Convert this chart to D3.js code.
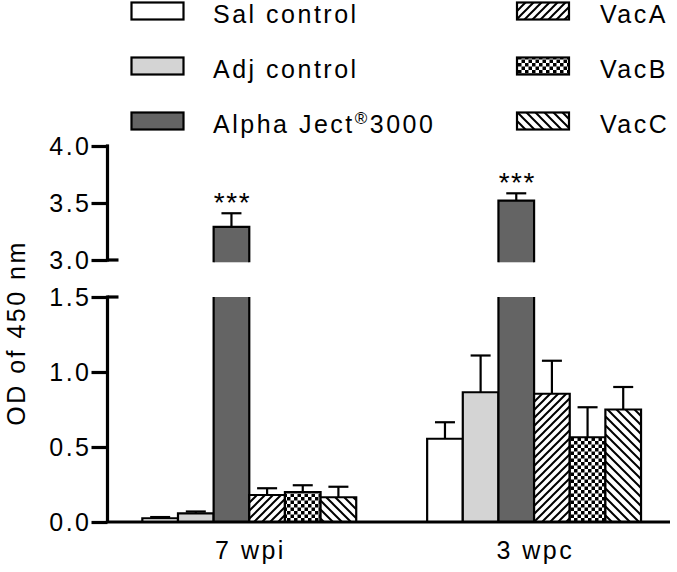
<!DOCTYPE html>
<html>
<head>
<meta charset="utf-8">
<script src="https://cdn.jsdelivr.net/npm/d3@7"></script>
<style>
  html, body { margin: 0; padding: 0; background: #fff; }
  svg { display: block; }
  text { font-family: "Liberation Sans", Arial, Helvetica, sans-serif; fill: #000; }
</style>
</head>
<body>
<svg id="chart" width="677" height="572"></svg>
<script>
// ---------------- DATA ----------------
const groups = ["7 wpi", "3 wpc"];
const series = ["Sal control", "Adj control", "Alpha Ject3000", "VacA", "VacB", "VacC"];
const means7wpi = [0.025, 0.058, 3.29, 0.18, 0.20, 0.165];
const errs7wpi  = [0.008, 0.012, 0.12, 0.045, 0.045, 0.07];
const means3wpc = [0.555, 0.865, 3.52, 0.855, 0.565, 0.75];
const errs3wpc  = [0.11, 0.245, 0.065, 0.22, 0.20, 0.15];
const significance = ["***", "***"]; // on Alpha Ject bars
const lowTicks  = [0, 0.5, 1.0, 1.5];
const highTicks = [3.0, 3.5, 4.0];
const yLabel = "OD of 450 nm";

// ---------------- LAYOUT ----------------
const svg = d3.select("#chart");
const axisX = 107.5;
const plotRight = 670;
const FS = 25, LS = 2.5;
const fillColors = {
  "Sal control": "#ffffff",
  "Adj control": "#d4d4d4",
  "Alpha Ject3000": "#646464",
  "VacA": "url(#patA)",
  "VacB": "url(#patB)",
  "VacC": "url(#patC)"
};

const yLow  = d3.scaleLinear().domain([0, 1.5]).range([522, 297]);
const yHigh = d3.scaleLinear().domain([3, 4]).range([260, 146]);

const xGroup = d3.scaleBand().domain(groups).range([axisX, plotRight])
  .paddingInner(0.249).paddingOuter(0.112).align(0.546);
const xSeries = d3.scaleBand().domain(series).range([0, xGroup.bandwidth()]).padding(0);

// ---------------- PATTERNS ----------------
const defs = svg.append("defs");
const pA = defs.append("pattern").attr("id", "patA").attr("patternUnits", "userSpaceOnUse")
  .attr("width", 8).attr("height", 8);
pA.append("rect").attr("width", 8).attr("height", 8).attr("fill", "#fff");
pA.append("path").attr("d", "M-2,2 L2,-2 M0,8 L8,0 M6,10 L10,6")
  .attr("stroke", "#000").attr("stroke-width", 2);

const pB = defs.append("pattern").attr("id", "patB").attr("patternUnits", "userSpaceOnUse")
  .attr("width", 7).attr("height", 7);
pB.append("rect").attr("width", 7).attr("height", 7).attr("fill", "#fff");
pB.append("rect").attr("x", 0).attr("y", 0).attr("width", 3.5).attr("height", 3.5).attr("fill", "#000");
pB.append("rect").attr("x", 3.5).attr("y", 3.5).attr("width", 3.5).attr("height", 3.5).attr("fill", "#000");

const pC = defs.append("pattern").attr("id", "patC").attr("patternUnits", "userSpaceOnUse")
  .attr("width", 9).attr("height", 9);
pC.append("rect").attr("width", 9).attr("height", 9).attr("fill", "#fff");
pC.append("path").attr("d", "M-2,7 L2,11 M0,0 L9,9 M7,-2 L11,2")
  .attr("stroke", "#000").attr("stroke-width", 2);

// ---------------- BARS ----------------
const rows = [];
groups.forEach((g, gi) => {
  const m = gi === 0 ? means7wpi : means3wpc;
  const e = gi === 0 ? errs7wpi : errs3wpc;
  series.forEach((s, si) => rows.push({ group: g, series: s, value: m[si], err: e[si] }));
});

const yOf = v => v > 1.5 ? yHigh(v) : yLow(v);
const barG = svg.append("g");

rows.forEach(d => {
  const x0 = xGroup(d.group) + xSeries(d.series);
  const w = xSeries.bandwidth();
  const fill = fillColors[d.series];
  const pieces = [];
  if (d.value > 1.5) {
    pieces.push({ top: yLow(1.5), bottom: yLow(0), cap: false });
    pieces.push({ top: yHigh(d.value), bottom: yHigh(2.98), cap: true });
  } else {
    pieces.push({ top: yLow(d.value), bottom: yLow(0), cap: true });
  }
  pieces.forEach(p => {
    barG.append("rect").attr("x", x0).attr("y", p.top).attr("width", w)
      .attr("height", p.bottom - p.top).attr("fill", fill);
    const path = p.cap
      ? `M${x0},${p.bottom} V${p.top} H${x0 + w} V${p.bottom}`
      : `M${x0},${p.bottom} V${p.top} M${x0 + w},${p.top} V${p.bottom}`;
    barG.append("path").attr("d", path).attr("fill", "none")
      .attr("stroke", "#000").attr("stroke-width", 2.2);
  });
  // error bar (upper only)
  const cx = x0 + w / 2;
  const yTop = yOf(d.value + d.err);
  barG.append("line").attr("x1", cx).attr("x2", cx).attr("y1", yOf(d.value)).attr("y2", yTop)
    .attr("stroke", "#000").attr("stroke-width", 2.2);
  barG.append("line").attr("x1", cx - 10).attr("x2", cx + 10).attr("y1", yTop).attr("y2", yTop)
    .attr("stroke", "#000").attr("stroke-width", 2.2);
  if (d.series === "Alpha Ject3000") {
    const gi = groups.indexOf(d.group);
    barG.append("text").attr("x", cx + 1).attr("y", yTop - 1)
      .attr("text-anchor", "middle").attr("font-size", 28).attr("letter-spacing", 1.5)
      .text(significance[gi]);
  }
});

// ---------------- AXES ----------------
function styleAxis(g) {
  g.selectAll(".tick line").attr("stroke-width", 3.2);
  g.selectAll(".tick text").attr("font-size", FS).attr("letter-spacing", LS)
    .style("font-family", "'Liberation Sans', Arial, sans-serif");
}
const axLow = svg.append("g").attr("transform", `translate(${axisX},0)`)
  .call(d3.axisLeft(yLow).tickValues(lowTicks).tickFormat(d3.format(".1f"))
    .tickSize(16).tickSizeOuter(0).tickPadding(0));
styleAxis(axLow);
const axHigh = svg.append("g").attr("transform", `translate(${axisX},0)`)
  .call(d3.axisLeft(yHigh).tickValues(highTicks).tickFormat(d3.format(".1f"))
    .tickSize(16).tickSizeOuter(0).tickPadding(0));
styleAxis(axHigh);
axLow.select(".domain").remove();
axHigh.select(".domain").remove();
svg.append("line").attr("x1", axisX).attr("x2", axisX).attr("y1", yLow(1.5) - 1.6).attr("y2", yLow(0))
  .attr("stroke", "#000").attr("stroke-width", 3.2);
svg.append("line").attr("x1", axisX).attr("x2", axisX).attr("y1", yHigh(4) - 1.6).attr("y2", yHigh(3) + 1.6)
  .attr("stroke", "#000").attr("stroke-width", 3.2);
// break marks
[yHigh(3), yLow(1.5)].forEach(y => {
  svg.append("line").attr("x1", axisX).attr("x2", axisX + 11).attr("y1", y).attr("y2", y)
    .attr("stroke", "#000").attr("stroke-width", 3.2);
});

// x axis
svg.append("line").attr("x1", axisX - 1.6).attr("x2", plotRight).attr("y1", yLow(0)).attr("y2", yLow(0))
  .attr("stroke", "#000").attr("stroke-width", 3.2);
svg.append("g").selectAll("text").data(groups).join("text")
  .attr("x", d => xGroup(d) + xGroup.bandwidth() / 2 + 1.2)
  .attr("y", 559).attr("text-anchor", "middle").attr("font-size", FS).attr("letter-spacing", LS)
  .text(d => d);

// y label
svg.append("text").attr("transform", `translate(25,${333}) rotate(-90)`)
  .attr("text-anchor", "middle").attr("font-size", FS).attr("letter-spacing", LS)
  .text(yLabel);

// ---------------- LEGEND ----------------
const legend = svg.append("g");
const legendCols = [{ boxX: 131.5, textX: 213, items: series.slice(0, 3) },
                    { boxX: 517, textX: 600, items: series.slice(3) }];
legendCols.forEach(col => {
  col.items.forEach((s, i) => {
    const top = 2.5 + i * 55;
    legend.append("rect").attr("x", col.boxX).attr("y", top).attr("width", 52).attr("height", 17)
      .attr("fill", fillColors[s]).attr("stroke", "#000").attr("stroke-width", 2.2);
    const t = legend.append("text").attr("x", col.textX).attr("y", top + 20.5)
      .attr("font-size", FS).attr("letter-spacing", LS);
    if (s === "Alpha Ject3000") {
      t.append("tspan").text("Alpha Ject");
      t.append("tspan").attr("font-size", 17).attr("dy", -9).text("®");
      t.append("tspan").attr("dy", 9).text("3000");
    } else {
      t.text(s);
    }
  });
});
</script>
</body>
</html>
